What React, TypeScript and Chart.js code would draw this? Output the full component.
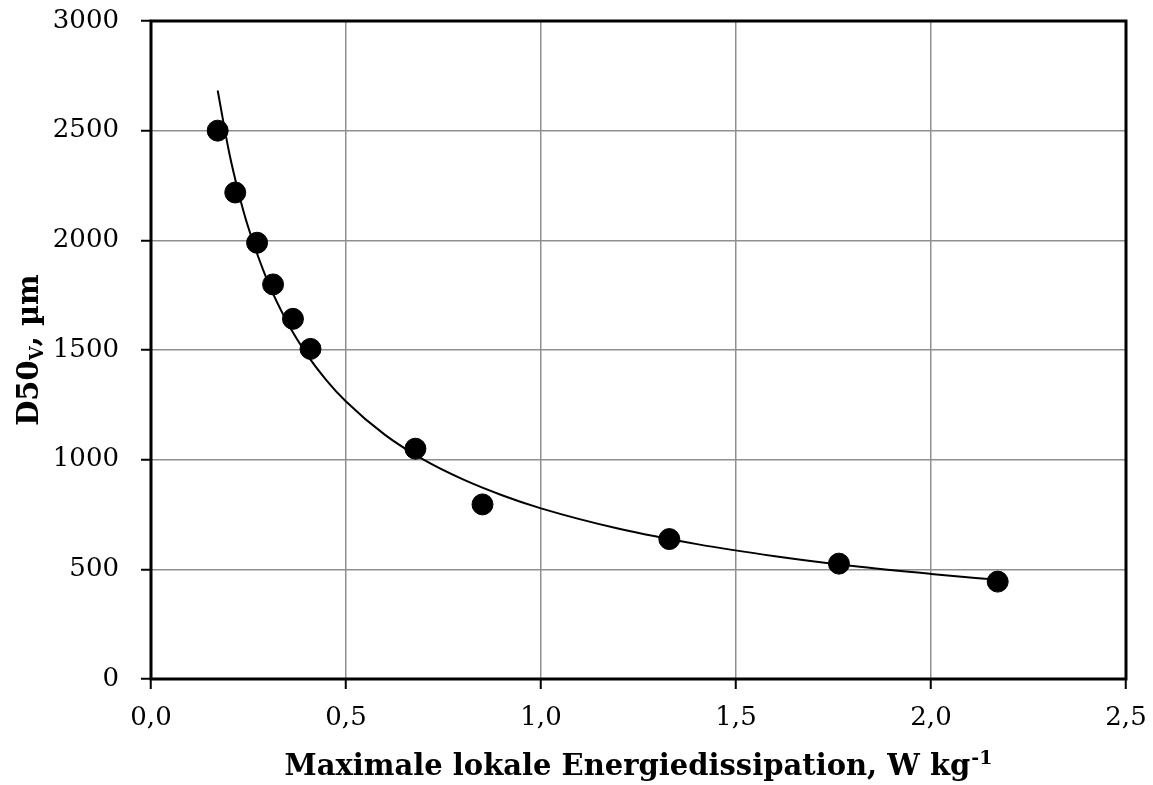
import React, { useEffect, useRef } from "react";
import { Chart, registerables } from "chart.js";

Chart.register(...registerables);

// Measured points (Maximale lokale Energiedissipation, W/kg ; D50_V, µm)
const measuredX = [0.171, 0.216, 0.272, 0.313, 0.364, 0.409, 0.678, 0.850, 1.329, 1.764, 2.171];
const measuredY = [2500, 2218, 1989, 1799, 1642, 1505, 1050, 796, 638, 526, 444];

// Trend line
const trendX = [0.171, 0.2, 0.225, 0.25, 0.3, 0.35, 0.4, 0.45, 0.5, 0.6, 0.7, 0.8, 0.9, 1.0, 1.2, 1.4, 1.6, 1.8, 2.0, 2.171];
const trendY = [2683, 2404, 2214, 2056, 1809, 1624, 1479, 1362, 1265, 1113, 999, 910, 838, 778, 685, 615, 560, 515, 479, 452];

const xTicks = [0, 0.5, 1.0, 1.5, 2.0, 2.5];
const yTicks = [0, 500, 1000, 1500, 2000, 2500, 3000];

const xTitleMain = "Maximale lokale Energiedissipation, W kg";
const xTitleSup = "-1";
const yTitleMain = "D50";
const yTitleSub = "V";
const yTitleRest = ", µm";

const FONT = "'DejaVu Serif', serif";

export default function App() {
  const canvasRef = useRef<HTMLCanvasElement | null>(null);

  useEffect(() => {
    const canvas = canvasRef.current;
    if (!canvas) return;

    const framePlugin = {
      id: "frame",
      beforeDatasetsDraw(chart: any) {
        const { ctx, chartArea } = chart;
        ctx.save();
        ctx.strokeStyle = "#000";
        ctx.lineWidth = 3;
        ctx.strokeRect(chartArea.left, chartArea.top, chartArea.right - chartArea.left, chartArea.bottom - chartArea.top);
        ctx.restore();
      },
      afterDraw(chart: any) {
        const { ctx, chartArea } = chart;
        ctx.save();
        ctx.fillStyle = "#000";
        ctx.textBaseline = "alphabetic";
        ctx.textAlign = "left";
        // X title
        const bigX = `bold 29px ${FONT}`;
        const smallX = `bold 19px ${FONT}`;
        ctx.font = bigX;
        const w1 = ctx.measureText(xTitleMain).width;
        ctx.font = smallX;
        const w2 = ctx.measureText(xTitleSup).width;
        const cx = (chartArea.left + chartArea.right) / 2;
        const startX = cx - (w1 + w2 + 1) / 2;
        const baseY = 775;
        ctx.font = bigX;
        ctx.fillText(xTitleMain, startX, baseY);
        ctx.font = smallX;
        ctx.fillText(xTitleSup, startX + w1 + 1, baseY - 11);

        // Y title
        const bigY = `bold 29px ${FONT}`;
        const smallY = `bold 18px ${FONT}`;
        ctx.font = bigY;
        const a = ctx.measureText(yTitleMain).width;
        const c = ctx.measureText(yTitleRest).width;
        ctx.font = smallY;
        const b = ctx.measureText(yTitleSub).width;
        const total = a + b + c;
        const cy = (chartArea.top + chartArea.bottom) / 2;
        ctx.translate(38, cy);
        ctx.rotate(-Math.PI / 2);
        let px = -total / 2;
        ctx.font = bigY;
        ctx.fillText(yTitleMain, px, 0);
        px += a;
        ctx.font = smallY;
        ctx.fillText(yTitleSub, px, 5);
        px += b;
        ctx.font = bigY;
        ctx.fillText(yTitleRest, px, 0);
        ctx.restore();
      },
    };

    const chart = new Chart(canvas, {
      type: "scatter",
      data: {
        datasets: [
          {
            type: "scatter",
            data: measuredX.map((x, i) => ({ x, y: measuredY[i] })),
            backgroundColor: "#000",
            borderColor: "#000",
            pointRadius: 10.5,
            pointHoverRadius: 10.5,
            order: 1,
          },
          {
            type: "line",
            data: trendX.map((x, i) => ({ x, y: trendY[i] })),
            borderColor: "#000",
            borderWidth: 2,
            pointRadius: 0,
            fill: false,
            cubicInterpolationMode: "monotone",
            order: 2,
          } as any,
        ],
      },
      options: {
        animation: false,
        responsive: false,
        maintainAspectRatio: false,
        layout: { padding: { left: 0, top: 21, right: 27, bottom: 0 } },
        plugins: { legend: { display: false }, tooltip: { enabled: false } },
        scales: {
          x: {
            type: "linear",
            min: 0,
            max: 2.5,
            afterBuildTicks: (scale: any) => {
              scale.ticks = xTicks.map((v) => ({ value: v }));
            },
            afterFit: (scale: any) => {
              scale.height = 106;
              scale.paddingLeft = 0;
              scale.paddingRight = 0;
            },
            ticks: {
              color: "#000",
              font: { family: FONT, size: 26 },
              padding: 14,
              maxRotation: 0,
              callback: (v: any) => Number(v).toFixed(1).replace(".", ","),
            },
            grid: {
              color: "#8f8f8f",
              lineWidth: 1.5,
              tickColor: "#000",
              tickLength: 10,
              tickWidth: 2,
            },
            border: { display: false },
          },
          y: {
            type: "linear",
            min: 0,
            max: 3000,
            afterBuildTicks: (scale: any) => {
              scale.ticks = yTicks.map((v) => ({ value: v }));
            },
            afterFit: (scale: any) => {
              scale.width = 151;
              scale.paddingTop = 0;
              scale.paddingBottom = 0;
            },
            ticks: {
              color: "#000",
              font: { family: FONT, size: 26 },
              padding: 22,
              callback: (v: any) => String(v),
            },
            grid: {
              color: "#8f8f8f",
              lineWidth: 1.5,
              tickColor: "#000",
              tickLength: 10,
              tickWidth: 2,
            },
            border: { display: false },
          },
        },
      },
      plugins: [framePlugin],
    });

    return () => chart.destroy();
  }, []);

  return (
    <div style={{ position: "absolute", left: 0, top: 0, width: 1153, height: 785, background: "#fff" }}>
      <canvas ref={canvasRef} width={1153} height={785} style={{ width: 1153, height: 785, display: "block" }} />
    </div>
  );
}
